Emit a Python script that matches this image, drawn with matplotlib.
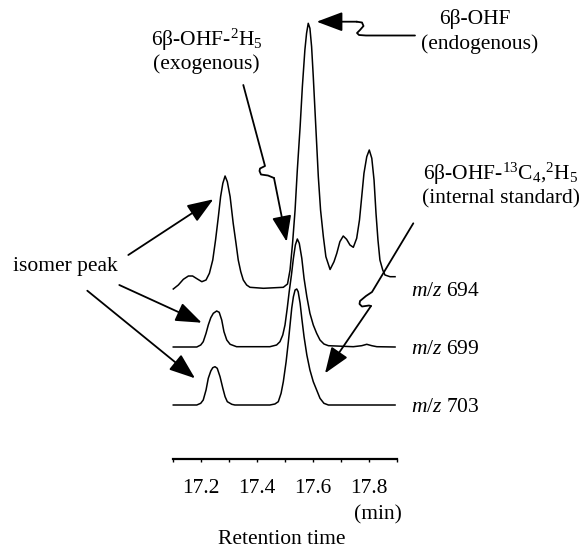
import numpy as np
import matplotlib
matplotlib.use('Agg')
import matplotlib.pyplot as plt

plt.rcParams['font.family'] = ['Liberation Serif', 'DejaVu Serif']
plt.rcParams['mathtext.fontset'] = 'custom'
plt.rcParams['mathtext.rm'] = 'Liberation Serif'
plt.rcParams['mathtext.it'] = 'Liberation Serif:italic'

# ===========DATA=============================================================
# retention time (min) and relative intensity above each trace's baseline
t_694 = [17.101, 17.119, 17.137, 17.155, 17.170, 17.187, 17.203, 17.218, 17.230,
         17.242, 17.252, 17.262, 17.270, 17.278, 17.286, 17.294, 17.304, 17.315,
         17.325, 17.333, 17.342, 17.351, 17.363, 17.375, 17.423, 17.494, 17.509,
         17.518, 17.527, 17.536, 17.544, 17.554, 17.562, 17.571, 17.577, 17.583,
         17.589, 17.595, 17.601, 17.607, 17.613, 17.619, 17.627, 17.637, 17.646,
         17.661, 17.675, 17.685, 17.696, 17.708, 17.720, 17.732, 17.744, 17.756,
         17.766, 17.774, 17.782, 17.792, 17.801, 17.810, 17.818, 17.825, 17.832,
         17.839, 17.849, 17.857, 17.875, 17.893]
i_694 = [0, 4, 9.7, 13, 13, 10, 7.3, 9, 15.7,
         29, 49, 72.3, 92.3, 105.7, 113, 107.3, 92.3, 65.7,
         45.7, 29, 17.3, 9, 4, 1.7, 0.7, 1.7, 5,
         19, 45.7, 79, 119, 162.3, 202.3, 239, 255.7, 265.7,
         260.7, 242.3, 212.3, 179, 145.7, 112.3, 79, 52.3, 32.3,
         19.5, 27.3, 35.7, 47.3, 53, 49.7, 44, 41.7, 50.7,
         69, 92.3, 115.7, 132.3, 139, 130.7, 109, 75.7, 49,
         29, 19, 14, 12.3, 12.3]

t_699 = [17.101, 17.185, 17.199, 17.208, 17.218, 17.226, 17.235, 17.244, 17.256,
         17.265, 17.274, 17.282, 17.292, 17.304, 17.327, 17.446, 17.470, 17.482,
         17.492, 17.500, 17.508, 17.515, 17.523, 17.530, 17.537, 17.544, 17.551,
         17.560, 17.568, 17.578, 17.589, 17.601, 17.613, 17.625, 17.639, 17.655,
         17.744, 17.774, 17.792, 17.810, 17.828, 17.893]
i_699 = [0, 0, 2, 5.3, 13.7, 22, 29.3, 33.7, 36,
         34.7, 27, 15.3, 7, 2.7, 0.3, 0.3, 2, 5.3,
         12, 22, 38.7, 55.3, 72, 88.7, 102, 108, 103.7,
         88.7, 68.7, 50.3, 33.7, 22, 13.7, 7, 3, 1.3,
         0.3, 1.3, 2.7, 1.3, 0.3, 0]

t_703 = [17.101, 17.185, 17.199, 17.208, 17.218, 17.226, 17.235, 17.242, 17.250,
         17.258, 17.268, 17.278, 17.286, 17.294, 17.310, 17.321, 17.446, 17.464,
         17.476, 17.486, 17.494, 17.504, 17.512, 17.518, 17.524, 17.530, 17.536,
         17.542, 17.547, 17.554, 17.560, 17.568, 17.578, 17.589, 17.601, 17.613,
         17.625, 17.639, 17.655, 17.893]
i_703 = [0, 0, 1.7, 5, 15, 26.7, 34, 37.3, 38.3,
         36.7, 28.3, 16.7, 8.3, 3.3, 0.7, 0, 0, 1,
         3.3, 11.7, 23.3, 43.3, 63.3, 80, 96.7, 108.3, 115,
         116, 113.3, 101.7, 86.7, 68.3, 50, 35, 23.3, 15,
         6.7, 1.7, 0, 0]

traces = [('694', t_694, i_694, 116), ('699', t_699, i_699, 58), ('703', t_703, i_703, 0)]
major_ticks = [17.2, 17.4, 17.6, 17.8]
minor_ticks = [17.1, 17.3, 17.5, 17.7, 17.9]
fs = 15.5
# =============================================================================

fig = plt.figure(figsize=(5.88, 5.51), dpi=100)

# data axes: 280 px per minute, 17.1 min at px 173
ax = fig.add_axes([0, 0, 1, 1])
ax.set_xlim(17.1 - 173 / 280, 17.1 + (588 - 173) / 280)
ax.set_ylim(-146, 405)
for name, t, inten, off in traces:
    ax.plot(t, np.array(inten) + off, color='black', lw=1.1)

for s in ['top', 'right', 'left']:
    ax.spines[s].set_visible(False)
ax.spines['bottom'].set_position(('data', -54))
ax.spines['bottom'].set_bounds(17.1, 17.9)
ax.spines['bottom'].set_linewidth(1.6)
ax.set_xticks(major_ticks)
ax.set_xticklabels(['{:.1f}'.format(v) for v in major_ticks], fontsize=fs)
ax.set_xticks(minor_ticks, minor=True)
ax.tick_params(axis='x', which='both', direction='out', length=2.5, width=1.0, pad=12)
ax.set_yticks([])
ax.patch.set_visible(False)

# layout overlay in picture pixels for labels and arrows
lay = fig.add_axes([0, 0, 1, 1])
lay.set_xlim(0, 588)
lay.set_ylim(551, 0)
lay.axis('off')

def arrow(start, tip):
    lay.annotate('', xy=tip, xytext=start,
                 arrowprops=dict(arrowstyle='-|>,head_length=1.6,head_width=0.6',
                                 lw=1.3, color='black', mutation_scale=10,
                                 shrinkA=0, shrinkB=0))

def wiggle(xs, ys):
    lay.plot(xs, ys, color='black', lw=1.3, solid_capstyle='round', solid_joinstyle='round')

# 6b-OHF (endogenous)
wiggle([415, 366, 359, 357, 360, 363.5, 362, 356.7],
       [35.5, 35.5, 35, 33, 30, 26, 22.5, 21.7])
arrow((357, 21.7), (316.7, 21.7))
lay.text(475, 19, '6β-OHF', ha='center', va='center', fontsize=fs)
lay.text(480, 44, '(endogenous)', ha='center', va='center', fontsize=fs)

# 6b-OHF-2H5 (exogenous)
wiggle([243.3, 265, 260, 259.5, 261, 268, 274], [85, 166, 168.5, 171, 174.5, 175.5, 178])
arrow((274, 178), (286.7, 241.7))
lay.text(207, 40, '6β-OHF-$^{2}$H$_{5}$', ha='center', va='center', fontsize=fs)
lay.text(206, 64, '(exogenous)', ha='center', va='center', fontsize=fs)

# internal standard
wiggle([413.3, 372, 366, 360, 359.5, 362, 369, 371], [223.3, 292, 296, 301, 304, 306.5, 305.5, 306])
arrow((371, 306), (325, 373.3))
lay.text(501, 174, '6β-OHF-$^{13}$C$_{4}$,$^{2}$H$_{5}$', ha='center', va='center', fontsize=fs)
lay.text(501, 199, '(internal standard)', ha='center', va='center', fontsize=fs)

# isomer peaks
lay.text(65, 267, 'isomer peak', ha='center', va='center', fontsize=fs)
arrow((128.3, 255), (213.3, 199.3))
arrow((119.3, 285), (201.7, 322.7))
arrow((87.3, 290.7), (195, 378.3))

for name, t, inten, off in traces:
    ax.text(17.1 + (411 - 173) / 280, off - 2, '$m/z$ ' + name, ha='left', va='center', fontsize=fs)

lay.text(378, 515, '(min)', ha='center', va='center', fontsize=fs)
lay.text(282, 540, 'Retention time', ha='center', va='center', fontsize=fs)

fig.savefig('out.png', dpi=100)
